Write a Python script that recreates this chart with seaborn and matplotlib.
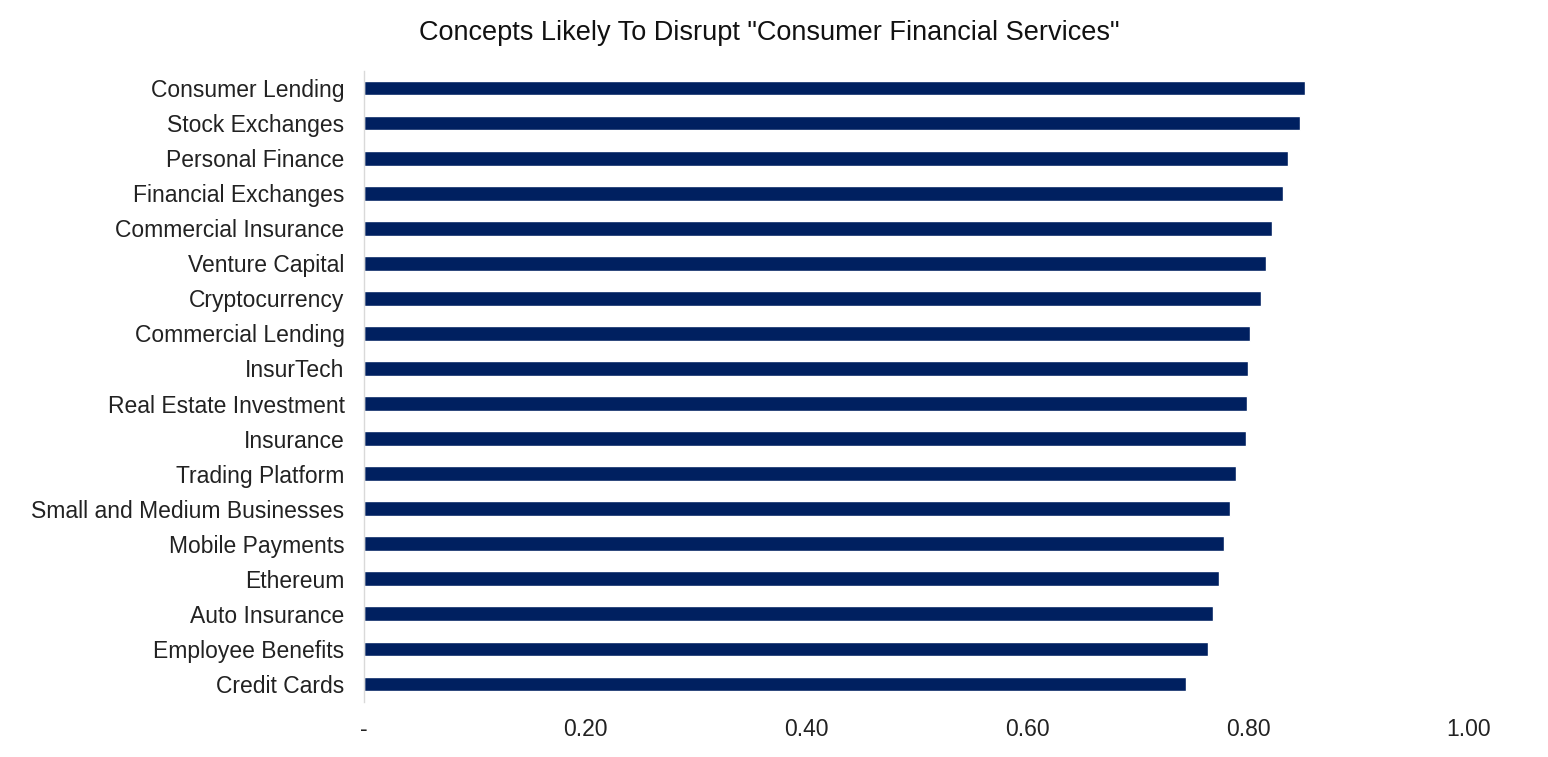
import matplotlib
matplotlib.use("Agg")
import matplotlib.pyplot as plt
import seaborn as sns
import pandas as pd
from matplotlib.ticker import FuncFormatter

concepts = [
    "Consumer Lending", "Stock Exchanges", "Personal Finance", "Financial Exchanges",
    "Commercial Insurance", "Venture Capital", "Cryptocurrency", "Commercial Lending",
    "InsurTech", "Real Estate Investment", "Insurance", "Trading Platform",
    "Small and Medium Businesses", "Mobile Payments", "Ethereum", "Auto Insurance",
    "Employee Benefits", "Credit Cards",
]
scores = [
    0.852, 0.847, 0.836, 0.832, 0.822, 0.816, 0.812, 0.802, 0.800,
    0.799, 0.798, 0.789, 0.784, 0.778, 0.774, 0.768, 0.764, 0.744,
]

df = pd.DataFrame({"concept": concepts, "score": scores})

sns.set_style("white")
plt.rcParams["font.family"] = ["Liberation Sans", "DejaVu Sans"]

fig = plt.figure(figsize=(15.48, 7.57), dpi=100)
ax = fig.add_axes([364 / 1548, 1 - 701.5 / 757, (1469 - 364) / 1548, 631 / 757])

sns.barplot(data=df, x="score", y="concept", orient="h", color="#002060",
            width=0.42, saturation=1, ax=ax)

ax.set_xlim(0, 1.0)
ax.set_ylim(len(concepts) - 0.5, -0.5)
ax.set_xticks([0, 0.2, 0.4, 0.6, 0.8, 1.0])
ax.xaxis.set_major_formatter(FuncFormatter(lambda v, p: "-" if v == 0 else f"{v:.2f}"))
ax.set_xlabel("")
ax.set_ylabel("")
ax.tick_params(axis="x", labelsize=16.5, length=0, pad=12, colors="#222222")
ax.tick_params(axis="y", labelsize=16.5, length=0, pad=14, colors="#222222")

for side in ["top", "right", "bottom"]:
    ax.spines[side].set_visible(False)
ax.spines["left"].set_color("#d9d9d9")
ax.spines["left"].set_linewidth(1)

fig.text(0.497, 1 - 33 / 757, 'Concepts Likely To Disrupt "Consumer Financial Services"',
         ha="center", va="center", fontsize=19.5, color="#111111")

fig.savefig("out.png", dpi=100)
